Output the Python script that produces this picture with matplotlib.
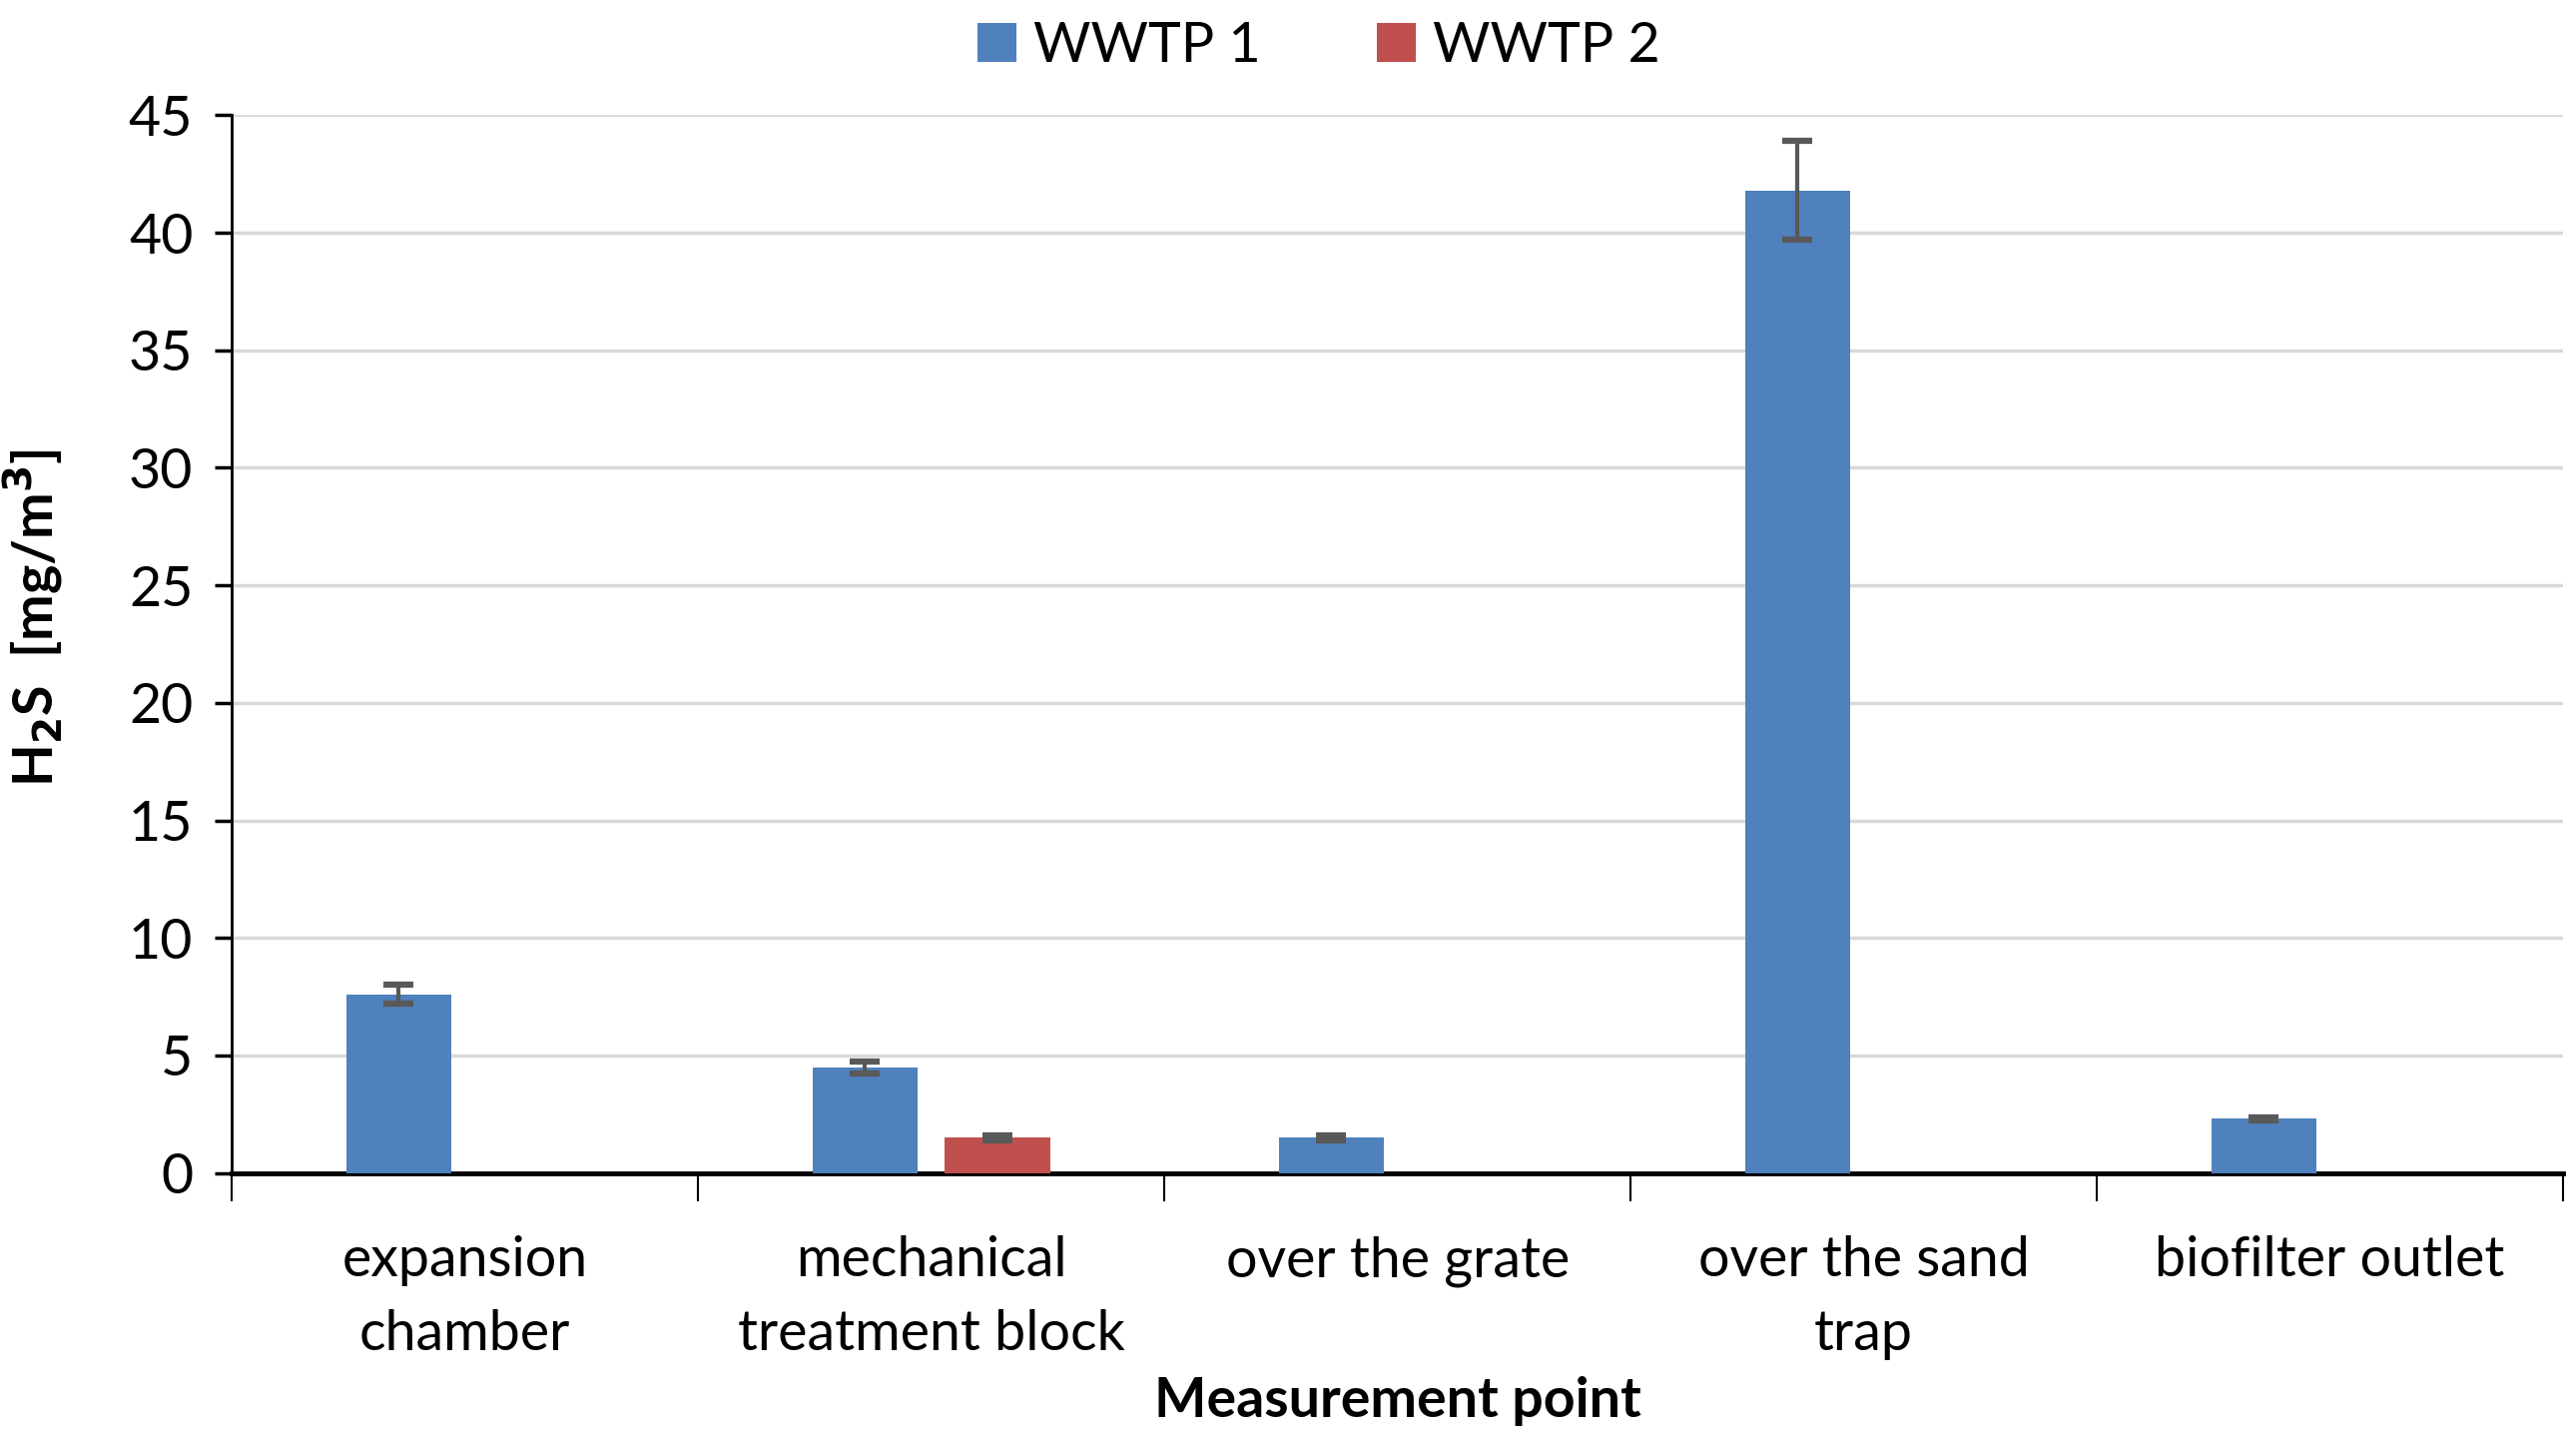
import matplotlib.pyplot as plt
import numpy as np

# === data ===
categories = ["expansion\nchamber", "mechanical\ntreatment block", "over the grate",
              "over the sand\ntrap", "biofilter outlet"]
wwtp1 = [7.6, 4.5, 1.5, 41.8, 2.3]
wwtp1_err = [0.4, 0.25, 0.1, 2.1, 0.08]
wwtp2 = [np.nan, 1.5, np.nan, np.nan, np.nan]
wwtp2_err = [0, 0.1, 0, 0, 0]

plt.rcParams['font.family'] = ['Lato', 'DejaVu Sans']

fig = plt.figure(figsize=(25.8, 14.43), dpi=100)
ax = fig.add_axes([0.090, 0.186, 0.905, 0.734])

x = np.arange(len(categories))
w = 0.226
off = 0.142
err_kw = dict(ecolor='#595959', elinewidth=3, capsize=11, capthick=4.5)

ax.bar(x - off, wwtp1, w, color='#4F81BD', yerr=wwtp1_err, error_kw=err_kw, label='WWTP 1', zorder=3)
ax.bar(x + off, wwtp2, w, color='#C0504D', yerr=wwtp2_err, error_kw=err_kw, label='WWTP 2', zorder=3)

ax.set_xlim(-0.5, len(categories) - 0.5)
ax.set_ylim(0, 45)
ax.set_yticks(range(0, 46, 5))
ax.yaxis.grid(True, color='#d9d9d9', linewidth=2.5, zorder=0)
ax.set_axisbelow(True)

# category ticks at boundaries, labels centred
ax.set_xticks(np.arange(-0.5, len(categories)), minor=False)
ax.set_xticklabels([])
ax.set_xticks(x, minor=True)
ax.set_xticklabels(categories, minor=True, fontsize=40)
for t in ax.get_xticklabels(minor=True):
    t.set_linespacing(1.55)
ax.tick_params(axis='x', which='major', length=20, width=1.5, color='black')
ax.tick_params(axis='x', which='minor', length=0, pad=45)
ax.tick_params(axis='y', length=12, width=2.5, labelsize=40, pad=16)

for s in ['top', 'right']:
    ax.spines[s].set_visible(False)
ax.spines['left'].set_linewidth(2)
ax.spines['bottom'].set_linewidth(3.5)

ax.set_xlabel("Measurement point", fontsize=40, fontweight='bold', labelpad=12)
ax.set_ylabel("H$_\\mathbf{2}$S  [mg/m$^\\mathbf{3}$]", fontsize=40, fontweight='bold')
ax.yaxis.set_label_coords(-0.071, 0.525)

fig.legend(loc='upper center', bbox_to_anchor=(0.512, 1.02), ncol=2, frameon=False,
           fontsize=40, handlelength=0.7, handleheight=0.7, handletextpad=0.3, columnspacing=2.1)

fig.savefig("out.png", dpi=100)
